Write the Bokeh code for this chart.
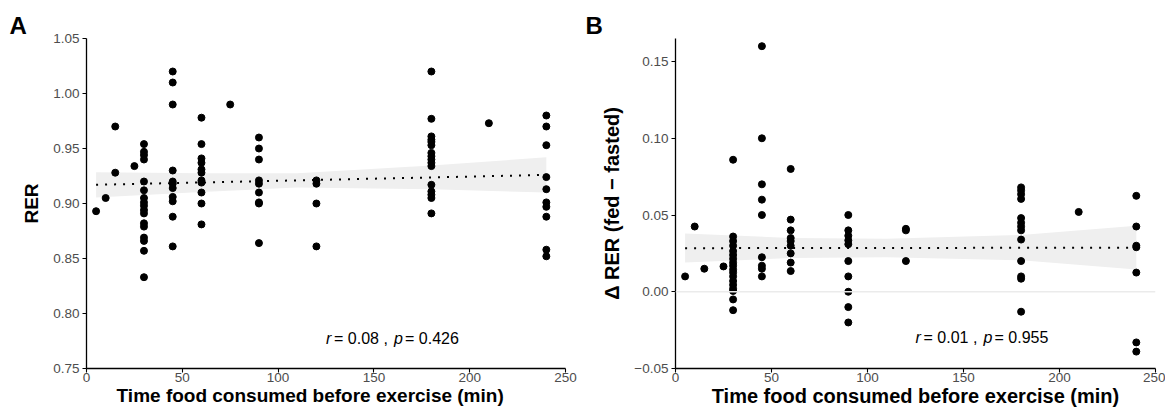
from bokeh.plotting import figure
from bokeh.layouts import row
from bokeh.models import (Range1d, FixedTicker, CustomJSTickFormatter, Label, Span,
                          ColumnDataSource)
from bokeh.embed import file_html
from bokeh.resources import INLINE

FONT = "Liberation Sans"

# ---------------- data: panel A (RER) ----------------
a_time = ([5] + [10] + [15] * 2 + [25] + [30] * 17 + [45] * 11 + [60] * 11 + [75]
          + [90] * 9 + [120] * 4 + [180] * 16 + [210] + [240] * 10)
a_rer = [0.893,
         0.905,
         0.970, 0.928,
         0.934,
         0.954, 0.947, 0.944, 0.940, 0.920, 0.912, 0.905, 0.901, 0.898, 0.894, 0.891,
         0.882, 0.879, 0.869, 0.866, 0.857, 0.833,
         1.020, 1.010, 0.990, 0.930, 0.920, 0.918, 0.914, 0.906, 0.902, 0.888, 0.861,
         0.978, 0.954, 0.941, 0.937, 0.931, 0.928, 0.921, 0.919, 0.910, 0.900, 0.881,
         0.990,
         0.960, 0.950, 0.940, 0.921, 0.918, 0.910, 0.901, 0.900, 0.864,
         0.921, 0.918, 0.900, 0.861,
         1.020, 0.977, 0.961, 0.958, 0.956, 0.953, 0.946, 0.943, 0.940, 0.937, 0.934,
         0.917, 0.911, 0.908, 0.905, 0.891,
         0.973,
         0.980, 0.970, 0.953, 0.924, 0.913, 0.901, 0.897, 0.888, 0.858, 0.852]

# fitted line and confidence band
a_fit_x = [5, 240]
a_fit_y = [0.917, 0.926]
a_band_x = [5, 60, 110, 180, 240]
a_band_lo = [0.9055, 0.9105, 0.9145, 0.9130, 0.9100]
a_band_hi = [0.9285, 0.9275, 0.9275, 0.9345, 0.9420]

# ---------------- data: panel B (delta RER) ----------------
b_time = ([5] + [10] + [15] + [25] + [30] * 18 + [45] * 9 + [60] * 9 + [90] * 10
          + [120] * 3 + [180] * 13 + [210] + [240] * 7)
b_delta = [0.010,
           0.0425,
           0.015,
           0.0165,
           0.086, 0.036, 0.033, 0.030, 0.0265, 0.024, 0.0215, 0.019, 0.017, 0.0145,
           0.0125, 0.010, 0.007, 0.0045, 0.002, 0.0005, -0.005, -0.012,
           0.160, 0.100, 0.070, 0.060, 0.050, 0.0225, 0.017, 0.015, 0.010,
           0.080, 0.047, 0.040, 0.035, 0.033, 0.030, 0.025, 0.019, 0.0135,
           0.050, 0.040, 0.0365, 0.0335, 0.031, 0.020, 0.010, 0.000, -0.010, -0.020,
           0.041, 0.040, 0.020,
           0.068, 0.066, 0.0635, 0.0605, 0.048, 0.045, 0.0425, 0.040, 0.034, 0.020,
           0.010, 0.0085, -0.013,
           0.052,
           0.0625, 0.0425, 0.030, 0.029, 0.0125, -0.033, -0.039]

b_fit_x = [5, 240]
b_fit_y = [0.0284, 0.0287]
b_band_x = [5, 60, 110, 180, 240]
b_band_lo = [0.0190, 0.0220, 0.0225, 0.0205, 0.0145]
b_band_hi = [0.0380, 0.0350, 0.0345, 0.0370, 0.0430]

x_ticks = [0, 50, 100, 150, 200, 250]
a_y_ticks = [0.75, 0.80, 0.85, 0.90, 0.95, 1.00, 1.05]
b_y_ticks = [-0.05, 0.00, 0.05, 0.10, 0.15]

x_label = "Time food consumed before exercise (min)"
a_y_label = "RER"
b_y_label = "\u0394 RER (fed \u2212 fasted)"
a_stat = ("0.08", "0.426")
b_stat = ("0.01", "0.955")

y_fmt = CustomJSTickFormatter(code="""
    const s = Math.abs(tick).toFixed(2);
    return (tick < -1e-9 ? "\u2212" : "") + s;
""")


def make_panel(letter, xs, ys, fit_x, fit_y, band_x, band_lo, band_hi,
               y_range, y_ticks, y_label, stat, stat_y, width, left, right,
               title_x, xlab, xlab_size, ylab_size, zero_line=False):
    p = figure(width=width, height=409, output_backend="svg", toolbar_location=None,
               x_range=Range1d(0, 250), y_range=Range1d(*y_range),
               min_border_left=left, min_border_right=right,
               min_border_top=38, min_border_bottom=41, title=letter)
    p.outline_line_color = None
    p.xgrid.visible = False
    p.ygrid.visible = False
    p.background_fill_color = "white"
    p.border_fill_color = "white"

    p.title.text_font = FONT
    p.title.text_font_size = "24px"
    p.title.text_font_style = "bold"
    p.title.text_color = "black"
    p.title.align = "left"
    p.title.offset = -(left - title_x)
    p.title.standoff = 0

    if zero_line:
        p.add_layout(Span(location=0, dimension="width", line_color="#ebebeb",
                          line_width=1.5))

    p.varea(x=band_x, y1=band_lo, y2=band_hi, fill_color="#efefef", fill_alpha=1.0)
    p.line(x=fit_x, y=fit_y, line_color="black", line_width=2, line_dash="2 7")

    src = ColumnDataSource(dict(x=xs, y=ys))
    p.scatter("x", "y", source=src, size=7, fill_color="black", line_color="black")

    for ax in (p.xaxis[0], p.yaxis[0]):
        ax.axis_line_color = "black"
        ax.axis_line_width = 1.3
        ax.major_tick_line_color = "black"
        ax.major_tick_line_width = 1.1
        ax.major_tick_out = 4
        ax.major_tick_in = 0
        ax.minor_tick_line_color = None
        ax.major_label_text_font = FONT
        ax.major_label_text_font_size = "13.5px"
        ax.major_label_text_color = "#4d4d4d"
        ax.axis_label_text_font = FONT
        ax.axis_label_text_font_style = "bold"
        ax.axis_label_text_color = "black"

    p.xaxis.axis_label_text_font_size = xlab_size
    p.yaxis.axis_label_text_font_size = ylab_size
    p.xaxis.ticker = FixedTicker(ticks=x_ticks)
    p.yaxis.ticker = FixedTicker(ticks=y_ticks)
    p.yaxis.formatter = y_fmt
    p.xaxis.axis_label = xlab
    p.yaxis.axis_label = y_label
    p.xaxis.major_label_standoff = 0
    p.xaxis.axis_label_standoff = 0
    p.yaxis.major_label_standoff = 3
    p.yaxis.axis_label_standoff = 8

    common = dict(y=stat_y, text_font=FONT, text_font_size="16px",
                  text_color="black", text_baseline="middle", x=125)
    p.add_layout(Label(text="r", text_font_style="italic", x_offset=0, **common))
    p.add_layout(Label(text="= " + stat[0] + " ,", x_offset=8, **common))
    p.add_layout(Label(text="p", text_font_style="italic", x_offset=68, **common))
    p.add_layout(Label(text="= " + stat[1], x_offset=79, **common))
    return p


pA = make_panel("A", a_time, a_rer, a_fit_x, a_fit_y, a_band_x, a_band_lo, a_band_hi,
                (0.75, 1.05), a_y_ticks, a_y_label, a_stat, 0.777,
                width=580, left=86, right=15, title_x=9,
                xlab=x_label + "\u00a0" * 6, xlab_size="19px", ylab_size="19px")
pB = make_panel("B", b_time, b_delta, b_fit_x, b_fit_y, b_band_x, b_band_lo, b_band_hi,
                (-0.05, 0.165), b_y_ticks, b_y_label, b_stat, -0.030,
                width=585, left=95, right=10, title_x=5,
                xlab=x_label, xlab_size="20px", ylab_size="20px", zero_line=True)

layout = row(pA, pB)
open("out.html", "w").write(file_html(layout, INLINE))
